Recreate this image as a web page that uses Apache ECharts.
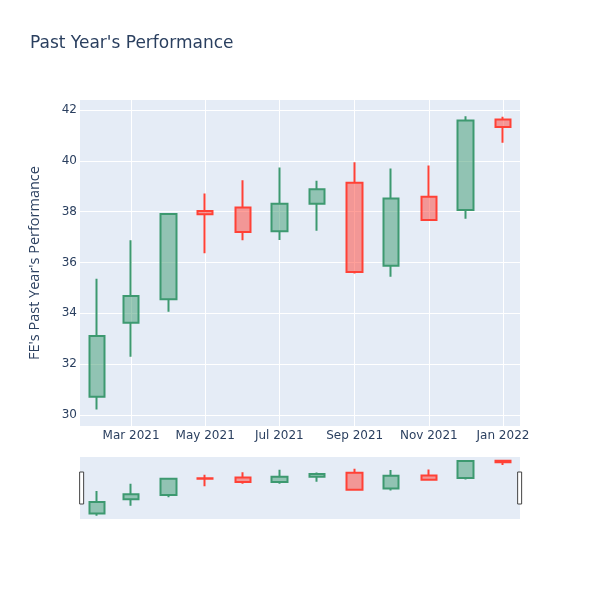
<!DOCTYPE html>
<html>
<head>
<meta charset="utf-8">
<script src="https://cdn.jsdelivr.net/npm/echarts@6/dist/echarts.min.js"></script>
<style>html,body{margin:0;padding:0;background:#fff}#c{width:600px;height:600px}</style>
</head>
<body>
<div id="c"></div>
<script>
// Data (monthly candles, first of each month)
const dates = ['2021-02-01','2021-03-01','2021-04-01','2021-05-01','2021-06-01','2021-07-01','2021-08-01','2021-09-01','2021-10-01','2021-11-01','2021-12-01','2022-01-01'];
const opens  = [30.72, 33.63, 34.55, 38.02, 38.16, 37.23, 38.31, 39.14, 35.87, 38.59, 38.06, 41.62];
const closes = [33.11, 34.68, 37.91, 37.90, 37.20, 38.31, 38.88, 35.63, 38.52, 37.67, 41.58, 41.33];
const lows   = [30.22, 32.29, 34.06, 36.36, 36.87, 36.88, 37.25, 35.57, 35.44, 37.65, 37.72, 40.71];
const highs  = [35.36, 36.87, 37.93, 38.71, 39.23, 39.74, 39.21, 39.94, 39.70, 39.81, 41.75, 41.73];
const xTicks = ['2021-03-01','2021-05-01','2021-07-01','2021-09-01','2021-11-01','2022-01-01'];
const yTicks = [30, 32, 34, 36, 38, 40, 42];
const xRange = ['2021-01-18','2022-01-15'];
const yRange = [29.57, 42.39];

const ts = s => { const p = s.split('-').map(Number); return Date.UTC(p[0], p[1]-1, p[2]); };
const MONTHS = ['Jan','Feb','Mar','Apr','May','Jun','Jul','Aug','Sep','Oct','Nov','Dec'];
const candleData = dates.map((d, i) => [ts(d), opens[i], closes[i], lows[i], highs[i]]);

const UP = '#3D9970', DOWN = '#FF4136';
const candleStyle = {
  color: 'rgba(61,153,112,0.5)',
  color0: 'rgba(255,65,54,0.5)',
  borderColor: UP,
  borderColor0: DOWN,
  borderWidth: 2
};
const tickColor = '#2a3f5f';

const chart = echarts.init(document.getElementById('c'));
chart.setOption({
  animation: false,
  backgroundColor: '#fff',
  title: {
    text: "Past Year's Performance",
    left: 30, top: 35, padding: 0,
    textStyle: { fontFamily: 'DejaVu Sans', fontSize: 17, fontWeight: 'normal', color: tickColor }
  },
  grid: [
    { left: 80, right: 80, top: 100, height: 326, show: true, backgroundColor: '#E5ECF6', borderWidth: 0 },
    { left: 80, right: 80, top: 457, height: 62, show: true, backgroundColor: '#E5ECF6', borderWidth: 0 }
  ],
  xAxis: [
    {
      type: 'value', gridIndex: 0, scale: true,
      min: ts(xRange[0]), max: ts(xRange[1]),
      axisLine: { show: false }, 
      axisTick: { show: false, customValues: xTicks.map(ts) },
      axisLabel: {
        customValues: xTicks.map(ts),
        margin: 4,
        fontFamily: 'DejaVu Sans', fontSize: 12, color: tickColor,
        formatter: v => { const d = new Date(v); return MONTHS[d.getUTCMonth()] + ' ' + d.getUTCFullYear(); }
      },
      splitLine: { show: true, lineStyle: { color: '#fff', width: 1 } }
    },
    {
      type: 'value', gridIndex: 1, scale: true,
      min: ts(xRange[0]), max: ts(xRange[1]),
      axisLine: { show: false }, axisTick: { show: false }, axisLabel: { show: false }, splitLine: { show: false }
    }
  ],
  yAxis: [
    {
      type: 'value', gridIndex: 0,
      min: yRange[0], max: yRange[1],
      name: "FE's Past Year's Performance",
      nameLocation: 'middle', nameGap: 38, nameRotate: 90,
      nameTextStyle: { fontFamily: 'Open Sans', fontSize: 14.5, color: tickColor },
      axisLine: { show: false },
      axisTick: { show: false, customValues: yTicks },
      axisLabel: { customValues: yTicks, margin: 3, fontFamily: 'DejaVu Sans', fontSize: 12, color: tickColor },
      splitLine: { show: true, lineStyle: { color: '#fff', width: 1 } }
    },
    {
      type: 'value', gridIndex: 1,
      min: yRange[0], max: yRange[1],
      axisLine: { show: false }, axisTick: { show: false }, axisLabel: { show: false }, splitLine: { show: false }
    }
  ],
  dataZoom: [{
    type: 'slider', xAxisIndex: [1], filterMode: 'none',
    left: 80, right: 80, top: 457, height: 62,
    start: 0, end: 100,
    showDetail: false, showDataShadow: false, brushSelect: false,
    backgroundColor: 'rgba(0,0,0,0)', fillerColor: 'rgba(0,0,0,0)', borderColor: 'rgba(0,0,0,0)',
    handleIcon: 'path://M0,0H4V32H0Z', handleSize: 32,
    handleStyle: { color: '#fff', borderColor: '#444', borderWidth: 1 },
    moveHandleSize: 0,
    emphasis: { handleStyle: { color: '#fff', borderColor: '#444', borderWidth: 1 } },
    dataBackground: { lineStyle: { opacity: 0 }, areaStyle: { opacity: 0 } },
    selectedDataBackground: { lineStyle: { opacity: 0 }, areaStyle: { opacity: 0 } }
  }],
  series: [
    {
      type: 'candlestick', xAxisIndex: 0, yAxisIndex: 0,
      data: candleData, encode: { x: 0, y: [1, 2, 3, 4] },
      barWidth: 16, itemStyle: candleStyle
    },
    {
      type: 'candlestick', xAxisIndex: 1, yAxisIndex: 1,
      data: candleData, encode: { x: 0, y: [1, 2, 3, 4] },
      barWidth: 16, itemStyle: candleStyle
    }
  ]
});
</script>
</body>
</html>
